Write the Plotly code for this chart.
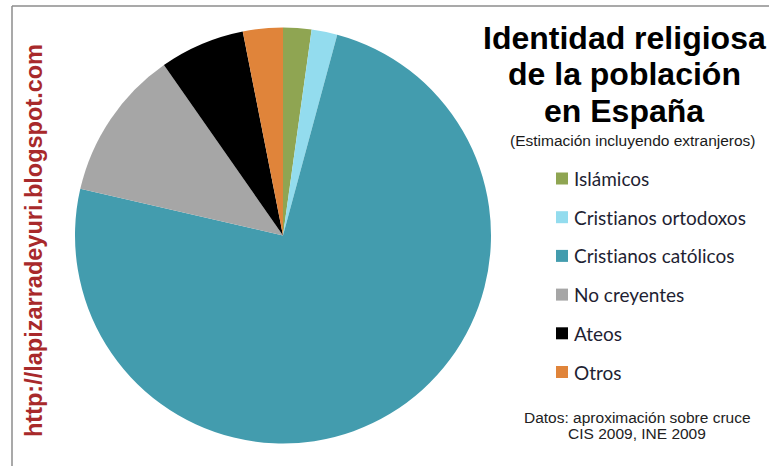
import plotly.graph_objects as go

# Religious identity shares (%), clockwise from 12 o'clock
labels = ["Islámicos", "Cristianos ortodoxos", "Cristianos católicos",
          "No creyentes", "Ateos", "Otros"]
shares = [2.2, 2.0, 74.4, 11.7, 6.6, 3.1]
colors = ["#8fa552", "#93dcee", "#439cae", "#a6a6a6", "#000000", "#e0843a"]

title_lines = ["Identidad religiosa", "de la población", "en España"]
subtitle = "(Estimación incluyendo extranjeros)"
source_lines = ["Datos: aproximación sobre cruce", "CIS 2009, INE 2009"]
blog_url = "http://lapizarradeyuri.blogspot.com"

W, H = 769, 466


def px(x):
    return x / W


def py(y):
    return 1 - y / H


fig = go.Figure(go.Pie(
    labels=labels,
    values=shares,
    marker=dict(colors=colors, line=dict(width=0)),
    sort=False,
    direction="clockwise",
    rotation=0,
    textinfo="none",
    hoverinfo="label+percent",
    domain=dict(x=[px(75), px(491)], y=[py(443.5), py(27.5)]),
    showlegend=False,
))

annotations = []
shapes = []

# Title block
title_font = dict(family="Arial, Liberation Sans, sans-serif", size=32,
                  color="#000000", weight="bold")
for i, line in enumerate(title_lines):
    annotations.append(dict(text=line, x=px(624), y=py(38 + i * 36.5),
                            xref="paper", yref="paper", showarrow=False,
                            xanchor="center", yanchor="middle", font=title_font))
annotations.append(dict(text=subtitle, x=px(633), y=py(140), xref="paper",
                        yref="paper", showarrow=False, xanchor="center",
                        yanchor="middle",
                        font=dict(family="Arial, Liberation Sans, sans-serif",
                                  size=15.5, color="#1a1a1a")))

# Custom legend: square swatch + label per slice
legend_top, legend_step = 178.5, 38.7
for i, (lab, col) in enumerate(zip(labels, colors)):
    yc = legend_top + i * legend_step
    shapes.append(dict(type="rect", xref="paper", yref="paper",
                       x0=px(556), x1=px(568), y0=py(yc - 6), y1=py(yc + 6),
                       fillcolor=col, line=dict(width=0)))
    # zero-width non-joiner keeps "ti" from being drawn as a ligature
    annotations.append(dict(text=lab.replace("ti", "t\u200ci"), x=px(572),
                            y=py(yc), xref="paper",
                            yref="paper", showarrow=False, xanchor="left",
                            yanchor="middle",
                            font=dict(family="Lato, Open Sans, sans-serif",
                                      size=19, color="#1f1f33")))

# Source note
for i, line in enumerate(source_lines):
    annotations.append(dict(text=line, x=px(637), y=py(417 + i * 16),
                            xref="paper", yref="paper", showarrow=False,
                            xanchor="center", yanchor="middle",
                            font=dict(family="Arial, Liberation Sans, sans-serif",
                                      size=15.5, color="#222222")))

# Vertical blog address
annotations.append(dict(text=blog_url, x=px(34), y=py(241), xref="paper",
                        yref="paper", showarrow=False, textangle=-90,
                        xanchor="center", yanchor="middle",
                        font=dict(family="Arial, Liberation Sans, sans-serif",
                                  size=23.5, color="#a8292b", weight="bold")))

# Frame lines (top and left)
shapes.append(dict(type="line", xref="paper", yref="paper",
                   x0=px(12), x1=1, y0=py(6), y1=py(6),
                   line=dict(color="#8c8c8c", width=1.5)))
shapes.append(dict(type="line", xref="paper", yref="paper",
                   x0=px(12), x1=px(12), y0=py(6), y1=0,
                   line=dict(color="#8c8c8c", width=1.5)))

fig.update_layout(
    width=W, height=H,
    margin=dict(l=0, r=0, t=0, b=0),
    paper_bgcolor="white", plot_bgcolor="white",
    annotations=annotations, shapes=shapes,
)

fig.write_html("out.html")
